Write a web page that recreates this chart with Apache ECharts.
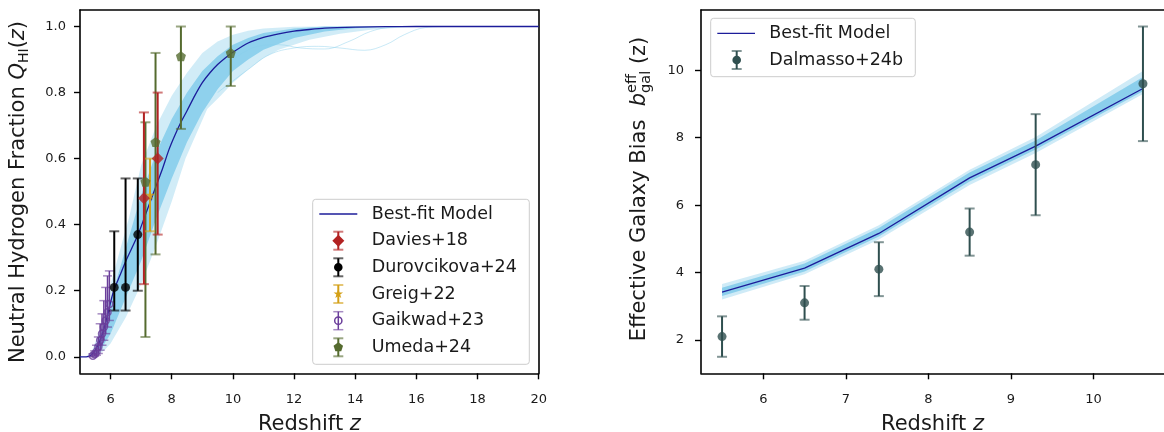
<!DOCTYPE html>
<html><head><meta charset="utf-8">
<script src="https://cdn.jsdelivr.net/npm/echarts@6/dist/echarts.min.js"></script>
<style>html,body{margin:0;padding:0;background:#fff}#c{width:1164px;height:432px}</style>
</head><body><div id="c"></div>
<script>
// ================= DATA: left panel (neutral hydrogen fraction) =================
const leftXTicks = [6, 8, 10, 12, 14, 16, 18, 20];
const leftYTicks = [0.0, 0.2, 0.4, 0.6, 0.8, 1.0];

// best-fit model curve
const fitZ = [5.0,5.2,5.3,5.4,5.5,5.6,5.7,5.8,5.9,6.0,6.1,6.3,6.5,6.7,6.9,7.1,7.3,7.5,7.7,7.9,8.1,8.3,8.5,8.75,9.0,9.25,9.5,9.75,10.0,10.5,11.0,11.5,12.0,12.5,13.0,14.0,15.0,16.0,20.0];
const fitQ = [0,0,0.002,0.008,0.02,0.038,0.06,0.09,0.125,0.165,0.2,0.245,0.29,0.33,0.37,0.42,0.47,0.52,0.57,0.625,0.67,0.71,0.745,0.79,0.83,0.86,0.885,0.905,0.922,0.95,0.967,0.978,0.986,0.991,0.995,0.998,0.9995,1,1];

// posterior-sample band (outer, faint) and core (dense)
const outerUpZ = [5.2,5.4,5.6,5.8,6.0,6.3,6.6,7.0,7.5,8.0,8.5,9.0,9.5,10.0,10.5,11.0,12.0,13.0,20.0];
const outerUpQ = [0,0.02,0.07,0.14,0.22,0.32,0.42,0.58,0.70,0.79,0.86,0.92,0.955,0.975,0.987,0.994,0.999,1,1];
const outerLoZ = [5.2,5.5,5.8,6.0,6.5,7.0,7.5,8.0,8.45,9.16,9.6,10.0,10.5,11.0,11.5,12.0,12.5,13.5,14.5,15.5,16.5,20.0];
const outerLoQ = [0,0,0.02,0.04,0.12,0.22,0.34,0.47,0.60,0.75,0.79,0.83,0.87,0.905,0.93,0.945,0.96,0.978,0.99,0.997,1,1];
const innerUpZ = [5.3,5.5,5.8,6.0,6.5,7.0,7.5,8.0,8.5,9.0,9.5,10.0,10.5,11.0,12.0,13.0,20.0];
const innerUpQ = [0,0.03,0.10,0.17,0.33,0.49,0.62,0.72,0.80,0.865,0.91,0.945,0.965,0.98,0.994,1,1];
const innerLoZ = [5.3,5.6,6.0,6.5,7.0,7.5,8.0,8.5,9.0,9.5,10.0,10.5,11.0,12.0,13.0,14.0,15.0,20.0];
const innerLoQ = [0,0.01,0.07,0.18,0.29,0.42,0.54,0.65,0.74,0.81,0.865,0.90,0.93,0.965,0.985,0.995,1,1];
// two individual wiggly samples
const odd1Z = [9.5,10.5,11.2,12.0,12.8,13.5,14.3,15.0,15.6,16.3,17.0];
const odd1Q = [0.80,0.87,0.915,0.935,0.94,0.935,0.928,0.945,0.975,0.997,1.0];
const odd2Z = [10.0,10.8,11.5,12.2,13.0,13.8,14.5,15.2,16.0];
const odd2Q = [0.90,0.94,0.945,0.935,0.932,0.955,0.985,0.998,1.0];

// observations
const daviesZ = [7.09, 7.54], daviesQ = [0.48, 0.60], daviesLo = [0.26, 0.23], daviesHi = [0.26, 0.20];
const durZ = [6.12, 6.49, 6.89], durQ = [0.21, 0.21, 0.37], durLo = [0.07, 0.07, 0.17], durHi = [0.17, 0.33, 0.17];
const greigZ = [7.29], greigQ = [0.49], greigLo = [0.11], greigHi = [0.11];
const gaiZ = [5.42,5.48,5.54,5.60,5.66,5.72,5.78,5.84,5.90,5.96];
const gaiQ = [0.003,0.008,0.015,0.03,0.05,0.07,0.09,0.11,0.135,0.16];
const gaiLo = [0.003,0.006,0.01,0.02,0.03,0.035,0.04,0.04,0.045,0.05];
const gaiHi = [0.006,0.01,0.02,0.03,0.05,0.06,0.08,0.10,0.11,0.10];
const umeZ = [7.14, 7.47, 8.30, 9.93], umeQ = [0.53, 0.65, 0.91, 0.92], umeLo = [0.47, 0.34, 0.22, 0.10], umeHi = [0.18, 0.27, 0.09, 0.08];

// ================= DATA: right panel (effective galaxy bias) =================
const rightXTicks = [6, 7, 8, 9, 10];
const rightYTicks = [2, 4, 6, 8, 10];
const dalZ = [5.5, 6.5, 7.4, 8.5, 9.3, 10.6];
const dalB = [2.1, 3.1, 4.1, 5.2, 7.2, 9.6];
const dalErr = [0.6, 0.5, 0.8, 0.7, 1.5, 1.7];
const fitBZ = [5.5, 6.5, 7.4, 8.5, 9.3, 10.6];
const fitB = [3.42, 4.13, 5.16, 6.81, 7.75, 9.46];
const bOuterUp = [3.66, 4.35, 5.40, 7.05, 8.02, 9.98];
const bOuterLo = [3.20, 3.95, 4.98, 6.60, 7.55, 9.30];
const bInnerUp = [3.55, 4.27, 5.32, 6.97, 7.92, 9.80];
const bInnerLo = [3.30, 4.03, 5.07, 6.70, 7.65, 9.38];

// ================= helpers =================
const FONT = 'DejaVu Sans';
const TXT = '#1a1a1a';
const SKY = '#87CEEB';
const FITC = '#1c1c9a';
const zip = (a, b) => a.map((v, i) => [v, b[i]]);
const errData = (x, y, lo, hi) => x.map((v, i) => [v, y[i] - lo[i], y[i] + hi[i]]);

function bandSeries(xi, yi, upX, upY, loX, loY, fill) {
  return {
    type: 'custom', xAxisIndex: xi, yAxisIndex: yi, silent: true, z: 1,
    data: [[upX[0], upY[0]]],
    renderItem: (params, api) => {
      const pts = upX.map((x, i) => api.coord([x, upY[i]]));
      for (let i = loX.length - 1; i >= 0; i--) pts.push(api.coord([loX[i], loY[i]]));
      return { type: 'polygon', shape: { points: pts }, style: { fill: fill, stroke: null } };
    },
    clip: true
  };
}
function errSeries(xi, yi, data, color, lw, capW) {
  return {
    type: 'custom', xAxisIndex: xi, yAxisIndex: yi, silent: true, z: 5,
    data: data, encode: { x: 0, y: [1, 2] },
    renderItem: (params, api) => {
      const x = api.value(0);
      const a = api.coord([x, api.value(1)]), b = api.coord([x, api.value(2)]);
      const h = capW / 2;
      return { type: 'group', children: [
        { type: 'line', shape: { x1: a[0], y1: a[1], x2: b[0], y2: b[1] }, style: { stroke: color, lineWidth: lw } },
        { type: 'line', shape: { x1: a[0] - h, y1: a[1], x2: a[0] + h, y2: a[1] }, style: { stroke: color, lineWidth: lw, opacity: 0.6 } },
        { type: 'line', shape: { x1: b[0] - h, y1: b[1], x2: b[0] + h, y2: b[1] }, style: { stroke: color, lineWidth: lw, opacity: 0.6 } }
      ] };
    }
  };
}
const PENT = 'path://M0,-1 L0.951,-0.309 L0.588,0.809 L-0.588,0.809 L-0.951,-0.309 Z';
const STAR = 'path://M0,-1 L0.225,-0.309 L0.951,-0.309 L0.363,0.118 L0.588,0.809 L0,0.382 L-0.588,0.809 L-0.363,0.118 L-0.951,-0.309 L-0.225,-0.309 Z';

// measure-based rotated axis titles
const mctx = document.createElement('canvas').getContext('2d');
function tw(t, s, it) { mctx.font = (it ? 'italic ' : '') + s + 'px "' + FONT + '"'; return mctx.measureText(t).width; }
function vTitle(cx, cy, frags) {
  let x = 0, prevX = 0; const items = [];
  frags.forEach(f => {
    const w = tw(f.t, f.s, f.it); let fx;
    if (f.stack) { fx = prevX; x = Math.max(x, fx + w); } else { fx = x; x += w; }
    prevX = fx; items.push([f, fx]);
  });
  const total = x;
  return { type: 'group', x: cx, y: cy, rotation: Math.PI / 2, z: 50, children: items.map(([f, fx]) => ({
    type: 'text', x: fx - total / 2, y: f.dy || 0,
    style: { text: f.t, fontSize: f.s, fontFamily: FONT, fontStyle: f.it ? 'italic' : 'normal', fill: TXT, align: 'left', verticalAlign: 'middle' }
  })) };
}

// legend drawing helpers (layout only)
function legendMarker(x, y, color, kind, lw) {
  const els = [
    { type: 'line', shape: { x1: x, y1: y - 9, x2: x, y2: y + 9 }, style: { stroke: color, lineWidth: lw } },
    { type: 'line', shape: { x1: x - 5, y1: y - 9, x2: x + 5, y2: y - 9 }, style: { stroke: color, lineWidth: lw, opacity: 0.6 } },
    { type: 'line', shape: { x1: x - 5, y1: y + 9, x2: x + 5, y2: y + 9 }, style: { stroke: color, lineWidth: lw, opacity: 0.6 } }
  ];
  const r = 5;
  if (kind === 'circle') els.push({ type: 'circle', shape: { cx: x, cy: y, r: 4.3 }, style: { fill: color } });
  if (kind === 'open') els.push({ type: 'circle', shape: { cx: x, cy: y, r: 3.6 }, style: { fill: 'rgba(0,0,0,0)', stroke: color, lineWidth: 1.5 } });
  if (kind === 'diamond') els.push({ type: 'polygon', shape: { points: [[x, y - 6], [x + 6, y], [x, y + 6], [x - 6, y]] }, style: { fill: color } });
  if (kind === 'star') { const p = []; for (let k = 0; k < 10; k++) { const a = -Math.PI / 2 + k * Math.PI / 5, rr = k % 2 ? 2 : 5; p.push([x + rr * Math.cos(a), y + rr * Math.sin(a)]); } els.push({ type: 'polygon', shape: { points: p }, style: { fill: color } }); }
  if (kind === 'pent') { const p = []; for (let k = 0; k < 5; k++) { const a = -Math.PI / 2 + k * 2 * Math.PI / 5; p.push([x + r * Math.cos(a), y + r * Math.sin(a)]); } els.push({ type: 'polygon', shape: { points: p }, style: { fill: color } }); }
  return els;
}
function legendText(x, y, t) {
  return { type: 'text', x: x, y: y, style: { text: t, fontSize: 17.5, fontFamily: FONT, fill: TXT, align: 'left', verticalAlign: 'middle' } };
}

const C_DAV = '#b22222', C_DUR = '#000000', C_GRE = '#d4a017', C_GAI = '#6a3d9a', C_UME = '#556b2f', C_DAL = '#2f4f4f';

// ================= option =================
const axisLineStyle = { show: true, onZero: false, lineStyle: { color: '#000', width: 1.6 } };
const tickStyle = { show: true, length: 6, lineStyle: { color: '#000', width: 1.4 } };
const lblStyle = { color: TXT, fontSize: 13, fontFamily: FONT };
const nameRich = { rich: { a: { fontSize: 21, fontFamily: FONT, color: TXT }, i: { fontSize: 21, fontFamily: FONT, fontStyle: 'italic', color: TXT } } };

const leftLegendRows = [214, 240.7, 267.3, 294, 320.7, 347.3];
const graphics = [
  vTitle(19, 192, [
    { t: 'Neutral Hydrogen Fraction ', s: 21 },
    { t: 'Q', s: 21, it: true },
    { t: 'HI', s: 14, dy: 5 },
    { t: '(', s: 21 }, { t: 'z', s: 21, it: true }, { t: ')', s: 21 }
  ]),
  vTitle(640, 189, [
    { t: 'Effective Galaxy Bias  ', s: 21 },
    { t: 'b', s: 21, it: true },
    { t: 'eff', s: 14.5, dy: -8 },
    { t: 'gal', s: 14.5, dy: 6, stack: true },
    { t: ' (z)', s: 21 }
  ]),
  // left legend
  { type: 'group', z: 60, children: [
    { type: 'rect', shape: { x: 312.7, y: 199.3, width: 216.6, height: 165, r: 3 }, style: { fill: 'rgba(255,255,255,0.85)', stroke: '#cccccc', lineWidth: 1 } },
    { type: 'line', shape: { x1: 319.3, y1: leftLegendRows[0], x2: 357.3, y2: leftLegendRows[0] }, style: { stroke: FITC, lineWidth: 1.3 } },
    legendText(371.7, leftLegendRows[0], 'Best-fit Model'),
    ...legendMarker(338.3, leftLegendRows[1], C_DAV, 'diamond', 2),
    legendText(371.7, leftLegendRows[1], 'Davies+18'),
    ...legendMarker(338.3, leftLegendRows[2], C_DUR, 'circle', 2),
    legendText(371.7, leftLegendRows[2], 'Durovcikova+24'),
    ...legendMarker(338.3, leftLegendRows[3], C_GRE, 'star', 2),
    legendText(371.7, leftLegendRows[3], 'Greig+22'),
    ...legendMarker(338.3, leftLegendRows[4], C_GAI, 'open', 1.5),
    legendText(371.7, leftLegendRows[4], 'Gaikwad+23'),
    ...legendMarker(338.3, leftLegendRows[5], C_UME, 'pent', 2),
    legendText(371.7, leftLegendRows[5], 'Umeda+24')
  ] },
  // right legend
  { type: 'group', z: 60, children: [
    { type: 'rect', shape: { x: 710.7, y: 18.3, width: 204.6, height: 58.4, r: 3 }, style: { fill: 'rgba(255,255,255,0.85)', stroke: '#cccccc', lineWidth: 1 } },
    { type: 'line', shape: { x1: 717.3, y1: 33.3, x2: 755, y2: 33.3 }, style: { stroke: FITC, lineWidth: 1.3 } },
    legendText(769.3, 33.3, 'Best-fit Model'),
    ...legendMarker(736.7, 60, C_DAL, 'circle', 2),
    legendText(769.3, 60, 'Dalmasso+24b')
  ] }
];

const option = {
  animation: false,
  backgroundColor: '#fff',
  grid: [
    { left: 80, top: 10, width: 458.7, height: 363.3, containLabel: false, outerBoundsMode: 'none' },
    { left: 701, top: 10, width: 463, height: 363.3, containLabel: false, outerBoundsMode: 'none' }
  ],
  xAxis: [
    { type: 'value', gridIndex: 0, min: 5, max: 20, position: 'bottom',
      axisLine: axisLineStyle, axisTick: Object.assign({ customValues: leftXTicks }, tickStyle),
      axisLabel: Object.assign({ customValues: leftXTicks, margin: 20 }, lblStyle), splitLine: { show: false },
      name: '{a|Redshift }{i|z}', nameLocation: 'middle', nameGap: 41, nameTextStyle: nameRich },
    { type: 'value', gridIndex: 0, min: 5, max: 20, position: 'top', axisLine: axisLineStyle, axisTick: { show: false }, axisLabel: { show: false }, splitLine: { show: false } },
    { type: 'value', gridIndex: 1, min: 5.245, max: 10.855, position: 'bottom',
      axisLine: axisLineStyle, axisTick: Object.assign({ customValues: rightXTicks }, tickStyle),
      axisLabel: Object.assign({ customValues: rightXTicks, margin: 20 }, lblStyle), splitLine: { show: false },
      name: '{a|Redshift }{i|z}', nameLocation: 'middle', nameGap: 41, nameTextStyle: nameRich },
    { type: 'value', gridIndex: 1, min: 5.245, max: 10.855, position: 'top', axisLine: axisLineStyle, axisTick: { show: false }, axisLabel: { show: false }, splitLine: { show: false } }
  ],
  yAxis: [
    { type: 'value', gridIndex: 0, min: -0.05, max: 1.05, position: 'left',
      axisLine: axisLineStyle, axisTick: Object.assign({ customValues: leftYTicks }, tickStyle),
      axisLabel: Object.assign({ customValues: leftYTicks, margin: 14, formatter: v => v.toFixed(1) }, lblStyle), splitLine: { show: false } },
    { type: 'value', gridIndex: 0, min: -0.05, max: 1.05, position: 'right', axisLine: axisLineStyle, axisTick: { show: false }, axisLabel: { show: false }, splitLine: { show: false } },
    { type: 'value', gridIndex: 1, min: 1.01, max: 11.79, position: 'left',
      axisLine: axisLineStyle, axisTick: Object.assign({ customValues: rightYTicks }, tickStyle),
      axisLabel: Object.assign({ customValues: rightYTicks, margin: 17 }, lblStyle), splitLine: { show: false } }
  ],
  graphic: graphics,
  series: [
    // left panel
    bandSeries(0, 0, outerUpZ, outerUpQ, outerLoZ, outerLoQ, 'rgba(135,206,235,0.38)'),
    bandSeries(0, 0, innerUpZ, innerUpQ, innerLoZ, innerLoQ, 'rgba(135,206,235,0.9)'),
    { type: 'line', xAxisIndex: 0, yAxisIndex: 0, data: zip(odd1Z, odd1Q), smooth: 0.4, symbol: 'none', silent: true, z: 1, lineStyle: { color: SKY, width: 1, opacity: 0.45 } },
    { type: 'line', xAxisIndex: 0, yAxisIndex: 0, data: zip(odd2Z, odd2Q), smooth: 0.4, symbol: 'none', silent: true, z: 1, lineStyle: { color: SKY, width: 1, opacity: 0.45 } },
    { type: 'line', xAxisIndex: 0, yAxisIndex: 0, data: zip(fitZ, fitQ), smooth: 0.2, symbol: 'none', silent: true, z: 3, lineStyle: { color: FITC, width: 1.3 } },
    errSeries(0, 0, errData(gaiZ, gaiQ, gaiLo, gaiHi), C_GAI, 1.5, 9),
    { type: 'scatter', xAxisIndex: 0, yAxisIndex: 0, data: zip(gaiZ, gaiQ), symbol: 'circle', symbolSize: 7, z: 6, itemStyle: { color: 'rgba(0,0,0,0)', borderColor: C_GAI, borderWidth: 1.5 } },
    errSeries(0, 0, errData(durZ, durQ, durLo, durHi), C_DUR, 2, 10),
    { type: 'scatter', xAxisIndex: 0, yAxisIndex: 0, data: zip(durZ, durQ), symbol: 'circle', symbolSize: 9, z: 6, itemStyle: { color: C_DUR } },
    errSeries(0, 0, errData(umeZ, umeQ, umeLo, umeHi), C_UME, 2, 10),
    { type: 'scatter', xAxisIndex: 0, yAxisIndex: 0, data: zip(umeZ, umeQ), symbol: PENT, symbolSize: 10, z: 6, itemStyle: { color: C_UME } },
    errSeries(0, 0, errData(greigZ, greigQ, greigLo, greigHi), C_GRE, 2, 10),
    { type: 'scatter', xAxisIndex: 0, yAxisIndex: 0, data: zip(greigZ, greigQ), symbol: STAR, symbolSize: 10, z: 6, itemStyle: { color: C_GRE } },
    errSeries(0, 0, errData(daviesZ, daviesQ, daviesLo, daviesHi), C_DAV, 2, 10),
    { type: 'scatter', xAxisIndex: 0, yAxisIndex: 0, data: zip(daviesZ, daviesQ), symbol: 'diamond', symbolSize: [12, 12], z: 6, itemStyle: { color: C_DAV } },
    // right panel
    bandSeries(2, 2, fitBZ, bOuterUp, fitBZ, bOuterLo, 'rgba(135,206,235,0.4)'),
    bandSeries(2, 2, fitBZ, bInnerUp, fitBZ, bInnerLo, 'rgba(135,206,235,0.95)'),
    { type: 'line', xAxisIndex: 2, yAxisIndex: 2, data: zip(fitBZ, fitB), symbol: 'none', silent: true, z: 3, lineStyle: { color: FITC, width: 1.3 } },
    errSeries(2, 2, errData(dalZ, dalB, dalErr, dalErr), C_DAL, 2, 10),
    { type: 'scatter', xAxisIndex: 2, yAxisIndex: 2, data: zip(dalZ, dalB), symbol: 'circle', symbolSize: 9, z: 6, itemStyle: { color: C_DAL } }
  ]
};
const chart = echarts.init(document.getElementById('c'), null, { renderer: 'canvas' });
chart.setOption(option);
</script>
</body></html>
